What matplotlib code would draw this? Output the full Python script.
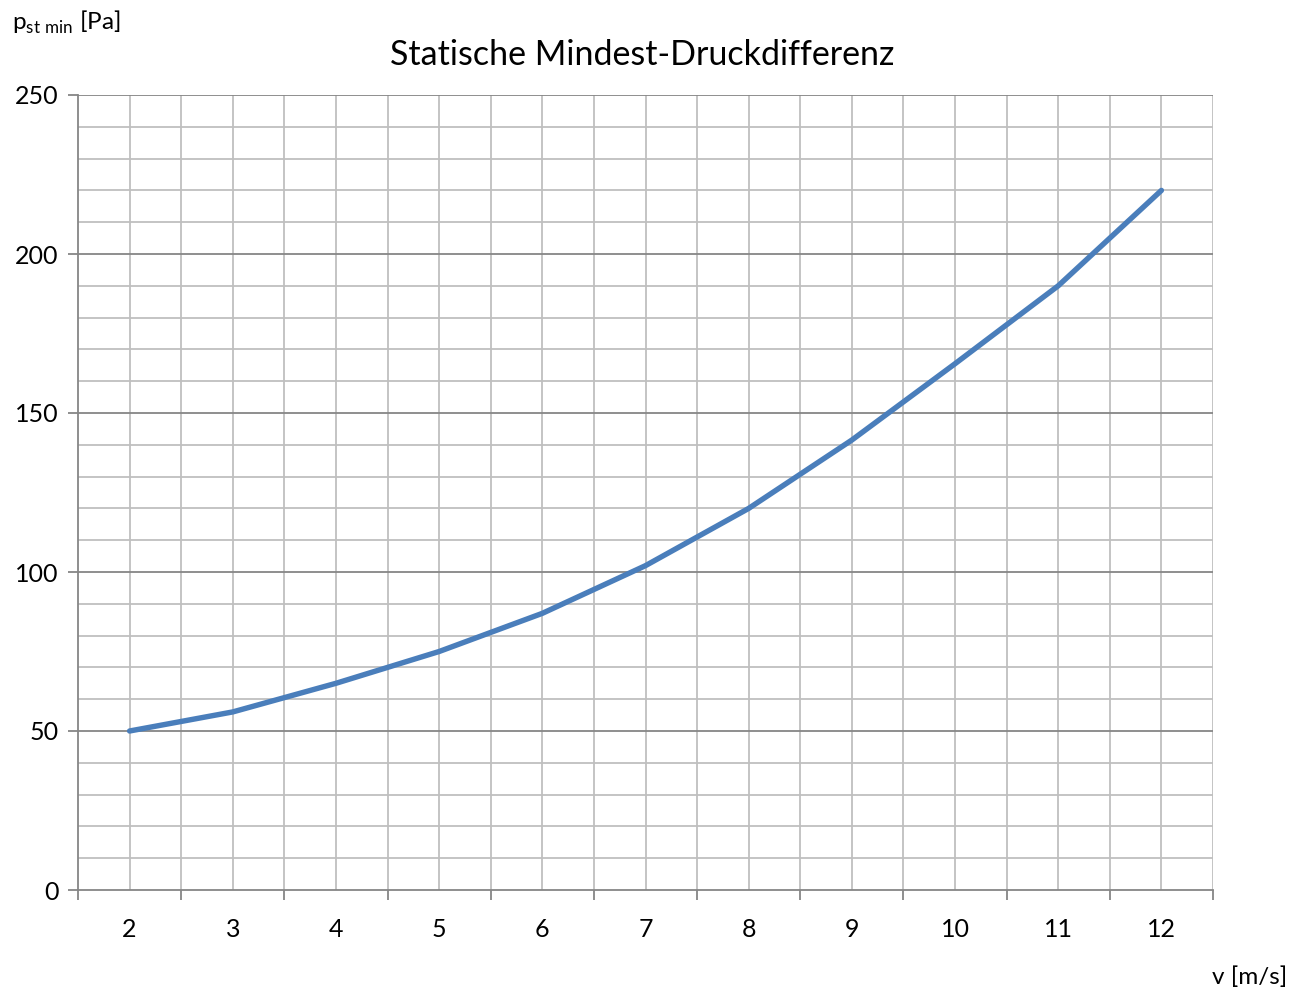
import matplotlib
matplotlib.use("Agg")
import matplotlib.pyplot as plt
import numpy as np

plt.rcParams['font.family'] = ['Lato', 'DejaVu Sans']
plt.rcParams['mathtext.fontset'] = 'custom'
plt.rcParams['mathtext.rm'] = 'Lato'

# data
v = [2, 3, 4, 5, 6, 7, 8, 9, 10, 11, 12]
p_min = [50, 56, 65, 75, 87, 102, 120, 141.5, 165.5, 190, 220]
x_labels = [str(x) for x in v]

fig = plt.figure(figsize=(13.03, 9.94), dpi=100)
ax = fig.add_axes([78/1303, 104/994, 1135/1303, 795/994])

ax.set_xlim(1.5, 12.5)
ax.set_ylim(0, 250)

# grid: light gray minor lines, darker major horizontals
for yy in np.arange(10, 251, 10):
    if yy % 50 == 0:
        ax.axhline(yy, color='#868686', lw=1.3, zorder=1)
    else:
        ax.axhline(yy, color='#bfbfbf', lw=1.3, zorder=0)
for xx in np.arange(2, 12.6, 0.5):
    ax.axvline(xx, color='#bfbfbf', lw=1.3, zorder=0)

ax.plot(v, p_min, color='#4a7ebb', lw=3.9, solid_capstyle='round', zorder=3)

for s in ['top', 'right']:
    ax.spines[s].set_visible(False)
for s in ['left', 'bottom']:
    ax.spines[s].set_color('#868686')
    ax.spines[s].set_linewidth(1.3)

ax.set_yticks(np.arange(0, 251, 50))
ax.set_xticks(v)
ax.set_xticklabels(x_labels)
ax.set_xticks(np.arange(1.5, 12.6, 1), minor=True)
ax.tick_params(axis='x', which='major', length=0, pad=20, labelsize=18)
ax.tick_params(axis='x', which='minor', length=7, width=1.3, color='#868686')
ax.tick_params(axis='y', length=7, width=1.3, color='#868686', labelsize=18, pad=7)

fig.text(642/1303, 1 - 55/994, 'Statische Mindest-Druckdifferenz', fontsize=24.5,
         ha='center', va='center')
fig.text(12/1303, 1 - 22/994, r'p$_{\mathrm{st\ min}}$ [Pa]', fontsize=17.5,
         ha='left', va='center')
fig.text(1287/1303, 1 - 977/994, 'v [m/s]', fontsize=17.5, ha='right', va='center')

fig.savefig('out.png', dpi=100)
